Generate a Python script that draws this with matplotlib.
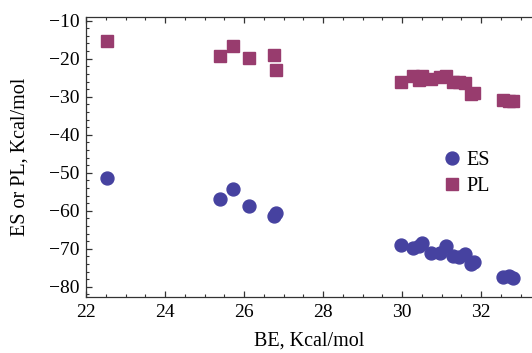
import matplotlib

matplotlib.use("Agg")
import matplotlib.pyplot as plt
from matplotlib.ticker import MultipleLocator

# binding energy (x) shared by both series
be = [22.52, 25.38, 25.71, 26.12, 26.75, 26.80,
      29.96, 30.28, 30.42, 30.50, 30.72, 30.95, 31.10, 31.28,
      31.45, 31.60, 31.75, 31.82, 32.55, 32.72, 32.80]
es = [-51.3, -56.8, -54.4, -58.8, -61.5, -60.7,
      -69.1, -69.9, -69.2, -68.6, -71.2, -71.0, -69.3, -72.0,
      -72.2, -71.4, -74.0, -73.6, -77.4, -77.2, -77.8]
pl = [-15.3, -19.2, -16.6, -19.7, -19.0, -23.0,
      -26.1, -24.6, -25.5, -24.5, -25.3, -24.8, -24.5, -26.0,
      -26.2, -26.5, -29.3, -29.0, -30.9, -31.0, -31.2]

plt.rcParams["font.family"] = ["Liberation Serif", "DejaVu Serif"]

fig = plt.figure(figsize=(5.32, 3.53), dpi=100)
ax = fig.add_axes([0.162, 0.1595, 0.838, 0.7932])

ax.plot(be, es, "o", color="#4642a0", markersize=9.3, label="ES")
ax.plot(be, pl, "s", color="#983c6e", markersize=8.5, label="PL")

ax.set_xlim(22, 33.29)
ax.set_ylim(-82.6, -8.95)
ax.xaxis.set_major_locator(MultipleLocator(2))
ax.xaxis.set_minor_locator(MultipleLocator(0.5))
ax.yaxis.set_major_locator(MultipleLocator(10))
ax.yaxis.set_minor_locator(MultipleLocator(2))
ax.tick_params(which="both", direction="in", top=True, right=False, colors="#333333",
               labelcolor="black", labelsize=14)
ax.tick_params(which="major", length=4, width=0.9, pad=5)
ax.tick_params(which="minor", length=2.2, width=0.8)
ax.spines["right"].set_visible(False)
for s in ("left", "bottom", "top"):
    ax.spines[s].set_color("#333333")
    ax.spines[s].set_linewidth(0.9)

ax.set_xlabel("BE, Kcal/mol", fontsize=14.5, labelpad=8)
ax.set_ylabel("ES or PL, Kcal/mol", fontsize=14.5, labelpad=14)

ax.legend(frameon=False, loc="upper left", bbox_to_anchor=(0.775, 0.55),
          handletextpad=0.15, borderaxespad=0, labelspacing=0.35, fontsize=14.5,
          handlelength=1.2)

fig.savefig("out.png", dpi=100)
